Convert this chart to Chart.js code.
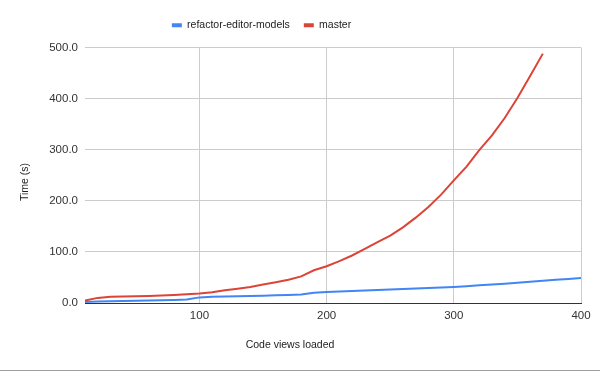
<!DOCTYPE html>
<html>
<head>
<meta charset="utf-8">
<script src="https://cdn.jsdelivr.net/npm/chart.js@4/dist/chart.umd.min.js"></script>
<style>
    html, body { margin: 0; padding: 0; background: #fff; }
    #wrap { width: 600px; height: 370px; border-bottom: 1px solid #9e9e9e; }
</style>
</head>
<body>
<div id="wrap"><canvas id="chart" width="600" height="370"></canvas></div>
<script>
// code views loaded (x) and time in seconds (y)
const refactorViews = [10, 20, 30, 40, 50, 60, 70, 80, 90, 100, 110, 120, 130, 140, 150, 160, 170, 180, 190, 200,
    210, 220, 230, 240, 250, 260, 270, 280, 290, 300, 310, 320, 330, 340, 350, 360, 370, 380, 390, 400];
const refactorTimes = [2, 3, 3.5, 4, 4.5, 5, 5.5, 6, 7, 11, 12, 12.5, 13, 13.5, 14, 15, 15.5, 16.5, 20, 21.5,
    22.5, 23.5, 24.5, 25.5, 26.5, 27.5, 28.5, 29.5, 30.5, 31.5, 33, 34.5, 36, 37.5, 39.5, 41.5, 43.5, 45.5, 47, 49];

const masterViews = [10, 20, 30, 40, 50, 60, 70, 80, 90, 100, 110, 120, 130, 140, 150, 160, 170, 180, 190, 200,
    210, 220, 230, 240, 250, 260, 270, 280, 290, 300, 310, 320, 330, 340, 350, 360, 370];
const masterTimes = [5, 10, 12, 12.5, 13, 13.5, 14.5, 15.5, 17, 18.5, 21, 25, 28, 31.5, 36, 40.5, 45.5, 52, 64, 72,
    82, 93, 106, 119, 132, 148, 167, 188, 212, 240, 267, 299, 328, 362, 401, 444, 488];

const xTicks = [100, 200, 300, 400];
const yTicks = [0, 100, 200, 300, 400, 500];

const xTitle = 'Code views loaded';
const yTitle = 'Time (s)';

const FONT = 'Arial, "Liberation Sans", sans-serif';

function toPoints(xs, ys) {
    return xs.map((x, i) => ({ x: x, y: ys[i] }));
}

// the legend sits a bit left of centre and has a gap under it, like the sheets chart
const legendTweak = {
    id: 'legendTweak',
    beforeInit(chart) {
        const fit = chart.legend.fit;
        chart.legend.fit = function() {
            fit.bind(chart.legend)();
            this.height += 7;
        };
    },
    afterLayout(chart) {
        chart.legend.left -= 29;
        chart.legend.right -= 29;
    }
};

// axis titles, placed where the sheets chart puts them
const axisTitles = {
    id: 'axisTitles',
    afterDraw(chart) {
        const ctx = chart.ctx;
        ctx.save();
        ctx.fillStyle = '#222';
        ctx.font = '10.5px ' + FONT;
        ctx.textAlign = 'center';
        ctx.textBaseline = 'middle';
        ctx.fillText(xTitle, 290, 345);
        ctx.translate(25, 182);
        ctx.rotate(-Math.PI / 2);
        ctx.fillText(yTitle, 0, 0);
        ctx.restore();
    }
};

new Chart(document.getElementById('chart'), {
    type: 'line',
    data: {
        datasets: [{
            label: 'refactor-editor-models',
            data: toPoints(refactorViews, refactorTimes),
            borderColor: '#4285f4',
            backgroundColor: '#4285f4',
            borderWidth: 2,
            pointRadius: 0,
            order: 2
        }, {
            label: 'master',
            data: toPoints(masterViews, masterTimes),
            borderColor: '#db4437',
            backgroundColor: '#db4437',
            borderWidth: 2,
            pointRadius: 0,
            order: 1
        }]
    },
    plugins: [legendTweak, axisTitles],
    options: {
        responsive: false,
        animation: false,
        layout: { padding: { top: 6, right: 19, bottom: 0, left: 0 } },
        plugins: {
            tooltip: { enabled: false },
            legend: {
                position: 'top',
                labels: {
                    boxWidth: 10,
                    boxHeight: 4,
                    padding: 14,
                    color: '#222',
                    font: { family: FONT, size: 10.5 },
                    sort: (a, b) => a.datasetIndex - b.datasetIndex,
                    generateLabels: function(chart) {
                        const items = Chart.defaults.plugins.legend.labels.generateLabels(chart);
                        items.forEach(item => { item.lineWidth = 0; });
                        return items;
                    }
                }
            }
        },
        scales: {
            x: {
                type: 'linear',
                min: 10,
                max: 400,
                afterBuildTicks: function(scale) {
                    scale.ticks = xTicks.map(v => ({ value: v }));
                },
                afterFit: function(scale) { scale.height = 67; },
                ticks: {
                    padding: 6,
                    color: '#333',
                    font: { family: FONT, size: 11.5 },
                    maxRotation: 0
                },
                grid: { color: '#cccccc', drawTicks: false },
                border: { display: true, color: '#333', width: 1 }
            },
            y: {
                min: 0,
                max: 500,
                afterBuildTicks: function(scale) {
                    scale.ticks = yTicks.map(v => ({ value: v }));
                },
                afterFit: function(scale) { scale.width = 85; },
                ticks: {
                    padding: 7,
                    color: '#333',
                    font: { family: FONT, size: 11.5 },
                    callback: v => v.toFixed(1)
                },
                grid: { color: '#cccccc', drawTicks: false },
                border: { display: false }
            }
        }
    }
});
</script>
</body>
</html>
